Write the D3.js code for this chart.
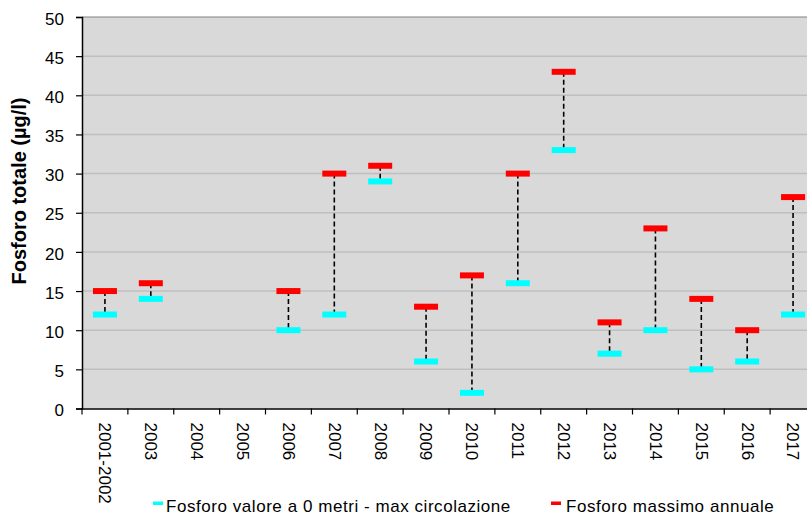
<!DOCTYPE html>
<html><head><meta charset="utf-8">
<script src="https://cdn.jsdelivr.net/npm/d3@7"></script>
<style>body{margin:0;background:#fff;overflow:hidden}svg{display:block}text{font-family:"Liberation Sans",Arial,sans-serif}</style>
</head><body><svg id="c" width="807" height="517"></svg>
<script>
const categories = ["2001-2002","2003","2004","2005","2006","2007","2008","2009","2010","2011","2012","2013","2014","2015","2016","2017"];
const surfaceValues = [12,14,null,null,10,12,29,6,2,16,33,7,10,5,6,12];
const maxValues = [15,16,null,null,15,30,31,13,17,30,43,11,23,14,10,27];
const yTicks = [0,5,10,15,20,25,30,35,40,45,50];
const seriesNames = ["Fosforo valore a 0 metri  - max circolazione","Fosforo massimo annuale"];
const colors = ["#00ffff","#ff0000"];

const svg = d3.select("#c");
const pL = 82, pR = 816, pT = 17, pB = 408.5;
const x = d3.scaleBand().domain(categories).range([pL, pR]);
const y = d3.scaleLinear().domain([0,50]).range([pB, pT]);

svg.append("rect").attr("x", pL).attr("y", pT).attr("width", pR-pL).attr("height", pB-pT).attr("fill","#d9d9d9");
svg.append("g").selectAll("line").data(yTicks.filter(d=>d>0 && d<50)).join("line")
  .attr("x1", pL).attr("x2", pR).attr("y1", d=>y(d)).attr("y2", d=>y(d))
  .attr("stroke","#bfbfbf").attr("stroke-width",1.5);
svg.append("line").attr("x1",pL).attr("x2",pR).attr("y1",pT).attr("y2",pT).attr("stroke","#808080").attr("stroke-width",1);

// y axis
const ya = svg.append("g").attr("transform",`translate(${pL},0)`)
  .call(d3.axisLeft(y).tickValues(yTicks).tickSize(6).tickPadding(12));
ya.select(".domain").attr("stroke","#000").attr("stroke-width",1.5);
ya.selectAll(".tick line").attr("stroke","#000").attr("stroke-width",1.2);
ya.selectAll("text").attr("font-size",17).attr("fill","#000").attr("dy","0.42em")
  .style("font-family","Liberation Sans, Arial, sans-serif");

// x axis
const xa = svg.append("g").attr("transform",`translate(0,${pB})`)
  .call(d3.axisBottom(x).tickSize(0));
xa.select(".domain").attr("stroke","#000").attr("stroke-width",1.5);
xa.selectAll(".tick line").remove();
xa.selectAll(".tick text").attr("font-size",17).attr("fill","#000")
  .style("font-family","Liberation Sans, Arial, sans-serif")
  .attr("transform","rotate(90)").attr("x",14).attr("y",0).attr("dy","0.33em")
  .attr("text-anchor","start");
// boundary ticks
const bounds = categories.map(c=>x(c)).concat([pR]);
svg.append("g").selectAll("line").data(bounds).join("line")
  .attr("x1",d=>d).attr("x2",d=>d).attr("y1",pB).attr("y2",pB+6)
  .attr("stroke","#000").attr("stroke-width",1.2);

// dashed connectors
const idx = d3.range(categories.length).filter(i=>surfaceValues[i]!=null && maxValues[i]!=null);
const cx = i => x(categories[i]) + x.bandwidth()/2;
svg.append("g").selectAll("line").data(idx).join("line")
  .attr("x1",cx).attr("x2",cx).attr("y1",i=>y(maxValues[i])).attr("y2",i=>y(surfaceValues[i]))
  .attr("stroke","#000").attr("stroke-width",1.6).attr("stroke-dasharray","5,3");

const mw = 24, mh = 6;
svg.append("g").selectAll("rect").data(idx).join("rect")
  .attr("x",i=>cx(i)-mw/2).attr("y",i=>y(surfaceValues[i])-mh/2).attr("width",mw).attr("height",mh).attr("fill",colors[0]);
svg.append("g").selectAll("rect").data(idx).join("rect")
  .attr("x",i=>cx(i)-mw/2).attr("y",i=>y(maxValues[i])-mh/2).attr("width",mw).attr("height",mh).attr("fill",colors[1]);

// y label
svg.append("text").attr("transform",`translate(26,191) rotate(-90)`)
  .attr("text-anchor","middle").attr("font-size",20).attr("font-weight","bold").text("Fosforo totale (µg/l)");

// legend
const lg = [{x:153, tx:166},{x:551, tx:566}];
lg.forEach((l,k)=>{
  svg.append("rect").attr("x",l.x).attr("y",501.5).attr("width",10).attr("height",3.5).attr("fill",colors[k]);
  svg.append("text").attr("x",l.tx).attr("y",511.5).attr("font-size",17).attr("letter-spacing",0.55)
    .attr("fill","#000").text(seriesNames[k]);
});
</script></body></html>
